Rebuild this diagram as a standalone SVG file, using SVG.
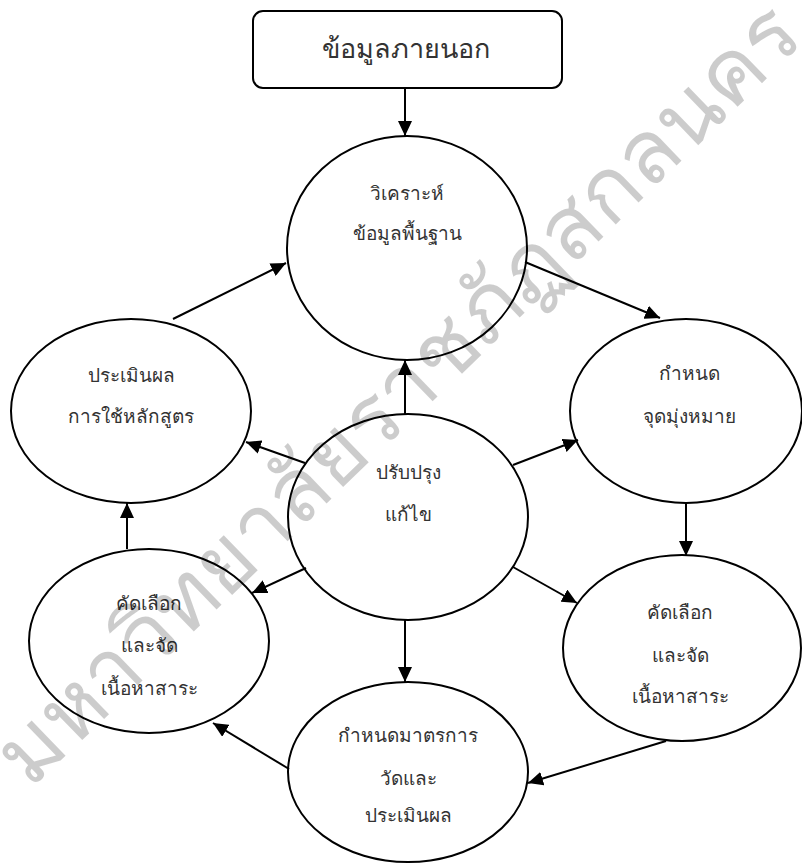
<svg xmlns="http://www.w3.org/2000/svg" width="802" height="865" viewBox="0 0 802 865">
<style>
.n{fill:#fff;stroke:#000;stroke-width:2}
.t{font-family:"Noto Sans","DejaVu Sans",sans-serif;font-size:19px;fill:#333;text-anchor:middle}
.c{stroke:#000;stroke-width:2;fill:none;marker-end:url(#ah)}
.wm{font-family:"Noto Sans","DejaVu Sans",sans-serif;font-size:88px;font-weight:300;fill:#000;fill-opacity:0.2}
</style>
<defs>
<marker id="ah" viewBox="0 0 15 14" refX="15" refY="7" markerWidth="15" markerHeight="14" orient="auto" markerUnits="userSpaceOnUse">
<path d="M0,0 L15,7 L0,14 z" fill="#000"/>
</marker>
</defs>
<rect width="802" height="865" fill="#fff"/>
<g id="external">
<rect class="n" x="253" y="11" width="309" height="77" rx="10"/>
<text class="t" x="406" y="58" style="font-size:27px">ข้อมูลภายนอก</text>
</g>
<g id="analyze">
<ellipse class="n" cx="407" cy="248" rx="120" ry="112"/>
<text class="t" x="407" y="200">วิเคราะห์</text>
<text class="t" x="407" y="240">ข้อมูลพื้นฐาน</text>
</g>
<g id="evaluate">
<ellipse class="n" cx="131" cy="411" rx="120" ry="92"/>
<text class="t" x="131" y="382">ประเมินผล</text>
<text class="t" x="131" y="423">การใช้หลักสูตร</text>
</g>
<g id="goal">
<ellipse class="n" cx="686" cy="411" rx="116" ry="92"/>
<text class="t" x="689" y="380">กำหนด</text>
<text class="t" x="689" y="423">จุดมุ่งหมาย</text>
</g>
<g id="improve">
<ellipse class="n" cx="408" cy="517" rx="120" ry="103"/>
<text class="t" x="408" y="479">ปรับปรุง</text>
<text class="t" x="408" y="521">แก้ไข</text>
</g>
<g id="select-right">
<ellipse class="n" cx="682" cy="648" rx="119" ry="93"/>
<text class="t" x="680" y="619">คัดเลือก</text>
<text class="t" x="680" y="662">และจัด</text>
<text class="t" x="680" y="703">เนื้อหาสาระ</text>
</g>
<g id="select-left">
<ellipse class="n" cx="149" cy="641" rx="120" ry="92"/>
<text class="t" x="149" y="610">คัดเลือก</text>
<text class="t" x="149" y="652">และจัด</text>
<text class="t" x="149" y="695">เนื้อหาสาระ</text>
</g>
<g id="measure">
<ellipse class="n" cx="408" cy="772" rx="120" ry="90"/>
<text class="t" x="408" y="742">กำหนดมาตรการ</text>
<text class="t" x="408" y="785">วัดและ</text>
<text class="t" x="408" y="822">ประเมินผล</text>
</g>
<g id="connectors">
<line class="c" x1="405" y1="88" x2="405" y2="136"/>
<line class="c" x1="525" y1="262" x2="660" y2="318"/>
<line class="c" x1="686" y1="503" x2="686" y2="556"/>
<line class="c" x1="666" y1="741" x2="528" y2="783"/>
<line class="c" x1="289" y1="769" x2="213" y2="723"/>
<line class="c" x1="127" y1="549" x2="127" y2="503"/>
<line class="c" x1="173" y1="319" x2="286" y2="263"/>
<line class="c" x1="405" y1="414" x2="405" y2="360"/>
<line class="c" x1="305" y1="463" x2="246" y2="442"/>
<line class="c" x1="513" y1="465" x2="578" y2="440"/>
<line class="c" x1="306" y1="568" x2="252" y2="593"/>
<line class="c" x1="513" y1="567" x2="577" y2="603"/>
<line class="c" x1="405" y1="620" x2="405" y2="682"/>
</g>
<text class="wm" transform="translate(30,790) rotate(-44)">มหาวิทยาลัยราชภัฏสกลนคร</text>
</svg>
